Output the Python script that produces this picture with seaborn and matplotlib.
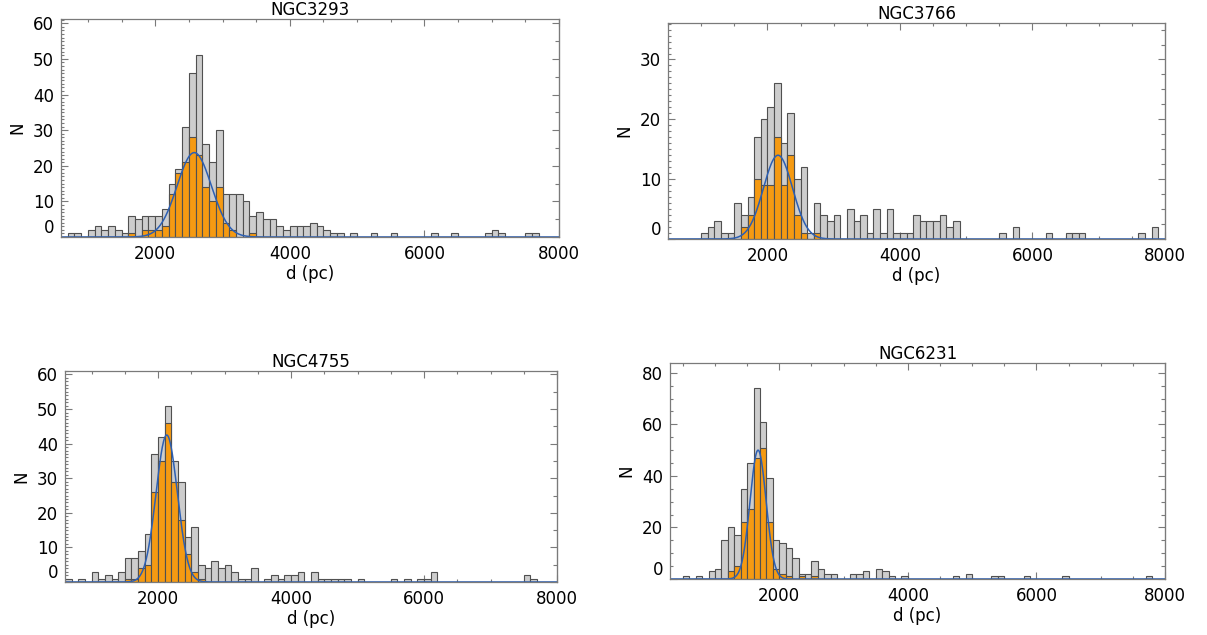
import numpy as np
import pandas as pd
import matplotlib
matplotlib.use('Agg')
import matplotlib.pyplot as plt
import seaborn as sns
from matplotlib.ticker import MultipleLocator

# counts in 100 pc bins, keyed by the left edge of the bin (d in pc)
# grey = all stars, orange = members
n3293_edges = [700, 800, 1000, 1100, 1200, 1300, 1400, 1500, 1600, 1700, 1800, 1900,
               2000, 2100, 2200, 2300, 2400, 2500, 2600, 2700, 2800, 2900, 3000, 3100,
               3200, 3300, 3400, 3500, 3600, 3700, 3800, 3900, 4000, 4100, 4200, 4300,
               4400, 4500, 4600, 4700, 4900, 5200, 5500, 6100, 6400, 6900, 7000, 7100,
               7500, 7600]
n3293_all = [1, 1, 2, 3, 2, 3, 2, 1, 6, 5, 6, 6,
             6, 8, 15, 19, 31, 46, 51, 26, 21, 30, 12, 12,
             12, 10, 6, 7, 5, 5, 3, 2, 3, 3, 3, 4,
             3, 2, 1, 1, 1, 1, 1, 1, 1, 1, 2, 1,
             1, 1]
n3293_mem_edges = [1600, 1800, 1900, 2000, 2100, 2200, 2300, 2400, 2500, 2600, 2700,
                   2800, 2900, 3000, 3100, 3400]
n3293_mem = [1, 2, 2, 2, 3, 12, 18, 21, 28, 23, 14, 10, 14, 4, 2, 1]

n3766_edges = [1000, 1100, 1200, 1300, 1400, 1500, 1600, 1700, 1800, 1900, 2000, 2100,
               2200, 2300, 2400, 2500, 2600, 2700, 2800, 2900, 3000, 3200, 3300, 3400,
               3500, 3600, 3700, 3800, 3900, 4000, 4100, 4200, 4300, 4400, 4500, 4600,
               4700, 4800, 5500, 5700, 6200, 6500, 6600, 6700, 7600, 7800]
n3766_all = [1, 2, 3, 1, 1, 6, 4, 7, 17, 20, 22, 26,
             16, 21, 10, 12, 1, 6, 4, 3, 4, 5, 3, 4,
             1, 5, 1, 5, 1, 1, 1, 4, 3, 3, 3, 4,
             2, 3, 1, 2, 1, 1, 1, 1, 1, 2]
n3766_mem_edges = [1600, 1700, 1800, 1900, 2000, 2100, 2200, 2300, 2400, 2500, 2700]
n3766_mem = [2, 4, 10, 9, 9, 17, 9, 14, 4, 1, 1]

n4755_edges = [600, 800, 1000, 1100, 1200, 1300, 1400, 1500, 1600, 1700, 1800, 1900,
               2000, 2100, 2200, 2300, 2400, 2500, 2600, 2700, 2800, 2900, 3000, 3100,
               3200, 3300, 3400, 3600, 3700, 3800, 3900, 4000, 4100, 4300, 4400, 4500,
               4600, 4700, 4800, 5000, 5500, 5700, 5900, 6000, 6100, 7500, 7600]
n4755_all = [1, 1, 3, 1, 2, 1, 3, 7, 7, 9, 14, 37,
             42, 51, 35, 29, 13, 16, 5, 4, 6, 4, 5, 3,
             1, 1, 4, 1, 2, 1, 2, 2, 3, 3, 1, 1,
             1, 1, 1, 1, 1, 1, 1, 1, 3, 2, 1]
n4755_mem_edges = [1500, 1600, 1700, 1800, 1900, 2000, 2100, 2200, 2300, 2400, 2500, 2600]
n4755_mem = [1, 1, 4, 5, 26, 35, 46, 29, 18, 8, 3, 1]

n6231_edges = [500, 700, 900, 1000, 1100, 1200, 1300, 1400, 1500, 1600, 1700, 1800,
               1900, 2000, 2100, 2200, 2300, 2400, 2500, 2600, 2700, 2800, 3100, 3200,
               3300, 3500, 3600, 3700, 3900, 4700, 4900, 5300, 5400, 5800, 6400, 7700]
n6231_all = [1, 1, 3, 4, 15, 20, 17, 35, 45, 74, 61, 39,
             15, 14, 12, 8, 2, 2, 7, 4, 2, 2, 2, 2,
             3, 4, 3, 1, 1, 1, 2, 1, 1, 1, 1, 1]
n6231_mem_edges = [1200, 1300, 1400, 1500, 1600, 1700, 1800, 1900, 2000, 2100, 2300, 2500]
n6231_mem = [3, 5, 22, 27, 47, 51, 22, 4, 2, 1, 1, 1]

# gaussian fits to the members: amplitude, centre (pc), sigma (pc)
fit_3293 = (23.7, 2580, 255)
fit_3766 = (14.0, 2160, 220)
fit_4755 = (42.5, 2130, 160)
fit_6231 = (50.0, 1670, 125)

names = ['NGC3293', 'NGC3766', 'NGC4755', 'NGC6231']
xlims = [(600, 8000), (500, 8000), (600, 8000), (300, 8000)]
ylims = [61.2, 36.1, 61.0, 83.8]
ymajor = [10, 10, 10, 20]
yminor_left = [1, 1, 1, 5]
yminor_right = [5, 2.5, 5, 5]
# axes boxes in pixels: left, top, right, bottom
boxes = [(61, 19, 559, 237), (668, 23, 1165, 239), (65, 371, 557, 582), (670, 363, 1165, 579)]

panels = [(n3293_edges, n3293_all, n3293_mem_edges, n3293_mem, fit_3293),
          (n3766_edges, n3766_all, n3766_mem_edges, n3766_mem, fit_3766),
          (n4755_edges, n4755_all, n4755_mem_edges, n4755_mem, fit_4755),
          (n6231_edges, n6231_all, n6231_mem_edges, n6231_mem, fit_6231)]

sns.set_style('white')
plt.rcParams['font.family'] = ['DejaVu Sans']
plt.rcParams['text.color'] = 'black'
plt.rcParams['xtick.labelcolor'] = 'black'
plt.rcParams['ytick.labelcolor'] = 'black'
plt.rcParams['axes.labelcolor'] = 'black'
W, H = 1207, 635
fig = plt.figure(figsize=(W / 100, H / 100), dpi=100)

grey = '#cdcdcd'
orange = '#f59a12'
blue = '#2c5fb3'
edge = '#505050'
frame = '#7a7a7a'
fs = 12

for i, (edges, allc, medges, memc, fit) in enumerate(panels):
    l, t, r, b = boxes[i]
    ax = fig.add_axes([l / W, 1 - b / H, (r - l) / W, (b - t) / H])
    df_all = pd.DataFrame({'d': np.array(edges) + 50, 'n': allc})
    df_mem = pd.DataFrame({'d': np.array(medges) + 50, 'n': memc})
    sns.histplot(data=df_all, x='d', weights='n', binwidth=100, binrange=(0, 8000),
                 color=grey, alpha=1, edgecolor=edge, linewidth=0.8, ax=ax)
    sns.histplot(data=df_mem, x='d', weights='n', binwidth=100, binrange=(0, 8000),
                 color=orange, alpha=1, edgecolor=edge, linewidth=0.8, ax=ax)
    amp, mu, sig = fit
    xs = np.linspace(xlims[i][0], xlims[i][1], 800)
    ys = amp * np.exp(-0.5 * ((xs - mu) / sig) ** 2)
    sns.lineplot(x=xs, y=ys, color=blue, linewidth=1.1, ax=ax)

    ax.set_xlim(*xlims[i])
    ax.set_ylim(0, ylims[i])
    ax.set_title(names[i], fontsize=fs, pad=2)
    ax.set_xlabel('d (pc)', fontsize=fs, labelpad=1)
    ax.set_ylabel('N', fontsize=fs, labelpad=5)

    ax.xaxis.set_major_locator(MultipleLocator(2000))
    ax.xaxis.set_minor_locator(MultipleLocator(500))
    ax.yaxis.set_major_locator(MultipleLocator(ymajor[i]))
    ax.yaxis.set_minor_locator(MultipleLocator(yminor_left[i]))
    ax.tick_params(which='both', direction='in', top=True, bottom=True, left=True,
                   right=False, color=frame, labelsize=fs)
    ax.tick_params(axis='x', pad=6)
    ax.tick_params(axis='y', pad=5)
    ax.tick_params(which='major', length=5, width=0.8)
    ax.tick_params(which='minor', length=2.5, width=0.8)
    for s in ax.spines.values():
        s.set_color(frame)
        s.set_linewidth(0.9)
        s.set_visible(True)

    sec = ax.secondary_yaxis('right')
    sec.yaxis.set_major_locator(MultipleLocator(ymajor[i]))
    sec.yaxis.set_minor_locator(MultipleLocator(yminor_right[i]))
    sec.tick_params(which='both', direction='in', labelright=False, color=frame)
    sec.tick_params(which='major', length=5, width=0.8)
    sec.tick_params(which='minor', length=3, width=0.8)
    sec.spines['right'].set_color(frame)

    # the zero label sits just above the lower axis
    fig.canvas.draw()
    for tk in ax.yaxis.get_major_ticks():
        if abs(tk.get_loc()) < 1e-6:
            tk.label1.set_va('bottom')

fig.savefig('out.png', dpi=100)
